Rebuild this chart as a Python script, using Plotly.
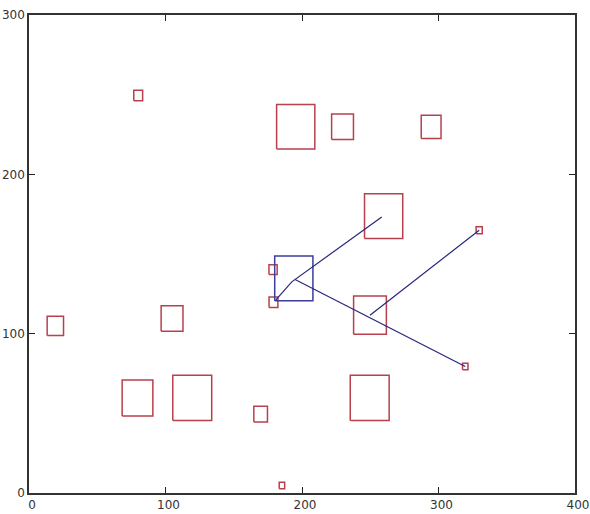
import plotly.graph_objects as go

# Red squares: centre x, centre y, side length (data units)
red_x = [80, 195.4, 229.7, 294.6, 259.8, 178.8, 179.1, 249.8, 329.8, 319.6, 19.3, 104.8, 79.5, 119.6, 169.7, 249.6, 185.3]
red_y = [249.5, 229.9, 229.8, 229.8, 173.8, 140.2, 119.7, 111.6, 164.9, 79.4, 104.9, 109.5, 59.6, 59.7, 49.5, 59.7, 4.7]
red_s = [6.5, 28, 16, 14.5, 28, 6, 6.5, 24, 4.5, 4, 12, 16, 22.5, 28.5, 10, 28.5, 4]

# Blue square
blue_x = [194]
blue_y = [134.7]
blue_s = [28]

# Connecting lines
lineA_x = [180.7, 192.5, 258.4]
lineA_y = [121, 132.5, 173.2]
lineB_x = [194.9, 319.6]
lineB_y = [134.0, 79.4]
lineC_x = [249.8, 329.8]
lineC_y = [111.6, 164.9]

x_ticks = [0, 100, 200, 300, 400]
y_ticks = [0, 100, 200, 300]


def square_path(cx, cy, s):
    xs, ys = [], []
    for x, y, d in zip(cx, cy, s):
        h = d / 2
        xs += [x - h, x + h, x + h, x - h, x - h, None]
        ys += [y - h, y - h, y + h, y + h, y - h, None]
    return xs, ys


fig = go.Figure()
rx, ry = square_path(red_x, red_y, red_s)
fig.add_trace(go.Scatter(x=rx, y=ry, mode="lines",
                         line=dict(color="#b8404c", width=1.5), hoverinfo="skip"))
bx, by = square_path(blue_x, blue_y, blue_s)
fig.add_trace(go.Scatter(x=bx, y=by, mode="lines",
                         line=dict(color="#3c3c9c", width=1.5), hoverinfo="skip"))
for lx, ly in [(lineA_x, lineA_y), (lineB_x, lineB_y), (lineC_x, lineC_y)]:
    fig.add_trace(go.Scatter(x=lx, y=ly, mode="lines",
                             line=dict(color="#26267e", width=1.2), hoverinfo="skip"))

axis_common = dict(showgrid=False, zeroline=False, showline=True, mirror="ticks",
                   linecolor="#333333", linewidth=1.5, ticks="inside", ticklen=6,
                   tickcolor="#222222", tickwidth=1, automargin=False,
                   tickfont=dict(family="DejaVu Sans", size=12, color="#333333"))

fig.update_layout(
    width=590, height=514,
    margin=dict(l=29, r=15, t=15, b=21),
    paper_bgcolor="white", plot_bgcolor="white",
    showlegend=False,
    xaxis=dict(range=[0, 400], tickvals=x_ticks, ticklabelshift=3,
               ticklabelstandoff=0, **axis_common),
    yaxis=dict(range=[0, 300], tickvals=y_ticks, ticklabelstandoff=0, **axis_common),
)

fig.write_html("out.html",
               config={"displayModeBar": False},
               post_script="document.body.style.margin='0';"
                           "document.body.style.overflow='hidden';")
